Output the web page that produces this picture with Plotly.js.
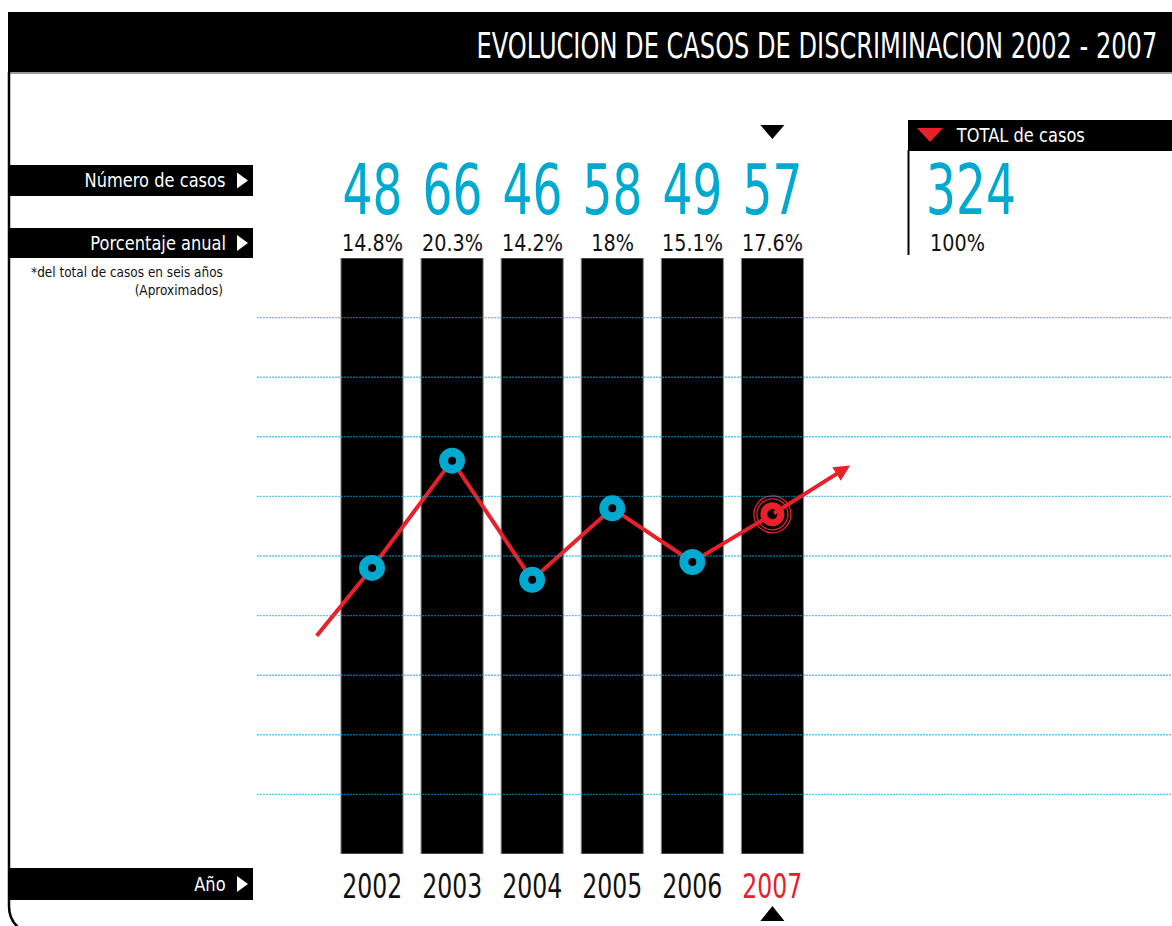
<!DOCTYPE html>
<html>
<head>
<meta charset="utf-8">
<script src="https://cdn.plot.ly/plotly-3.0.1.min.js"></script>
<style>
html,body{margin:0;padding:0;background:#fff;}
#chart{width:1172px;height:926px;}
</style>
</head>
<body>
<div id="chart"></div>
<script>
// ---------------- DATA ----------------
const years = ["2002", "2003", "2004", "2005", "2006", "2007"];
const cases = [48, 66, 46, 58, 49, 57];
const percentLabels = ["14.8%", "20.3%", "14.2%", "18%", "15.1%", "17.6%"];
const barHeights = [100, 100, 100, 100, 100, 100];
const gridValues = [10, 20, 30, 40, 50, 60, 70, 80, 90];
const leadIn = {x: -0.69, y: 36.6};   // start of the red trend line (left of 2002)
const leadOut = {x: 5.97, y: 65.2};   // tip of the red trend arrow (right of 2007)
const totalCases = "324";
const totalPercent = "100%";
const titleText = "EVOLUCION DE CASOS DE DISCRIMINACION 2002 - 2007";
const rowLabels = ["Número de casos", "Porcentaje anual", "Año"];
const noteLines = ["*del total de casos en seis años", "(Aproximados)"];
const totalLabel = "TOTAL de casos";

// ---------------- LAYOUT HELPERS ----------------
const W = 1172, H = 926, ML = 257, MR = 0, MT = 258, MB = 72;
const px = X => (X - ML) / (W - ML - MR);
const py = Y => (H - MB - Y) / (H - MB - MT);
const FONT = "'DejaVu Sans', 'Noto Sans', sans-serif";
const BLUE = "#00a9cf";
const RED = "#e8202a";
const idx = years.map((_, i) => i);
const lastI = years.length - 1;

// ---------------- TRACES ----------------
const traces = [
  {
    type: "bar", x: idx, y: barHeights, width: 0.775,
    marker: {color: "#000", line: {color: "#8a8a8a", width: 1}},
    hoverinfo: "skip", showlegend: false
  },
  {
    type: "scatter", mode: "lines",
    x: [leadIn.x].concat(idx), y: [leadIn.y].concat(cases),
    line: {color: RED, width: 4}, hoverinfo: "skip", showlegend: false
  },
  {
    type: "scatter", mode: "markers",
    x: idx.slice(0, lastI), y: cases.slice(0, lastI),
    marker: {size: 17, color: "#000", line: {color: BLUE, width: 9}},
    showlegend: false
  },
  {
    type: "scatter", mode: "markers", x: [lastI], y: [cases[lastI]],
    marker: {size: 37, symbol: "circle-open", color: RED, line: {color: RED, width: 1.3}},
    showlegend: false, hoverinfo: "skip"
  },
  {
    type: "scatter", mode: "markers", x: [lastI], y: [cases[lastI]],
    marker: {size: 31, symbol: "circle-open", color: RED, line: {color: RED, width: 1.3}},
    showlegend: false, hoverinfo: "skip"
  },
  {
    type: "scatter", mode: "markers", x: [lastI], y: [cases[lastI]],
    marker: {size: 24, color: RED, line: {width: 0}},
    showlegend: false
  },
  {
    type: "scatter", mode: "markers", x: [lastI], y: [cases[lastI]],
    marker: {size: 10, color: "#000", line: {width: 0}},
    showlegend: false, hoverinfo: "skip"
  }
];

// ---------------- SHAPES ----------------
const shapes = [];
// title bar
shapes.push({type: "rect", xref: "paper", yref: "paper", x0: px(8), x1: px(1172), y0: py(72), y1: py(12),
  fillcolor: "#000", line: {width: 0}, layer: "above"});
shapes.push({type: "line", xref: "paper", yref: "paper", x0: px(10), x1: px(1172), y0: py(73), y1: py(73),
  line: {color: "#9a9a9a", width: 2}, layer: "above"});
// left frame with rounded bottom corner
shapes.push({type: "path", xref: "paper", yref: "paper",
  path: `M ${px(9)},${py(72)} L ${px(9)},${py(906)} Q ${px(9)},${py(922)} ${px(22)},${py(930)}`,
  line: {color: "#000", width: 2.5}, layer: "above"});
// gridlines above bars
gridValues.forEach(v => shapes.push({type: "line", xref: "paper", yref: "y", x0: 0, x1: 1, y0: v, y1: v,
  line: {color: "rgba(0,165,235,0.62)", width: 1.4, dash: "2px,1px"}, layer: "above"}));
// row label bars
const rowCenters = [180.5, 243, 884];
const rowBox = [[165, 196], [228, 258], [868, 900]];
rowBox.forEach((b, k) => {
  shapes.push({type: "rect", xref: "paper", yref: "paper", x0: px(10), x1: px(253), y0: py(b[1]), y1: py(b[0]),
    fillcolor: "#000", line: {width: 0}, layer: "above"});
  const yc = rowCenters[k];
  shapes.push({type: "path", xref: "paper", yref: "paper",
    path: `M ${px(237)},${py(yc - 8)} L ${px(248)},${py(yc)} L ${px(237)},${py(yc + 8)} Z`,
    fillcolor: "#fff", line: {width: 0}, layer: "above"});
});
// total box
shapes.push({type: "rect", xref: "paper", yref: "paper", x0: px(908), x1: px(1172), y0: py(151), y1: py(120),
  fillcolor: "#000", line: {width: 0}, layer: "above"});
shapes.push({type: "line", xref: "paper", yref: "paper", x0: px(908.5), x1: px(908.5), y0: py(255), y1: py(150),
  line: {color: "#000", width: 2}, layer: "above"});
shapes.push({type: "path", xref: "paper", yref: "paper",
  path: `M ${px(917)},${py(128)} L ${px(943)},${py(128)} L ${px(930)},${py(142)} Z`,
  fillcolor: RED, line: {width: 0}, layer: "above"});
// pointer triangles for the current year
shapes.push({type: "path", xref: "x", yref: "paper",
  path: `M ${lastI - 0.15},${py(125)} L ${lastI + 0.15},${py(125)} L ${lastI},${py(139)} Z`,
  fillcolor: "#000", line: {width: 0}, layer: "above"});
shapes.push({type: "path", xref: "x", yref: "paper",
  path: `M ${lastI - 0.15},${py(921)} L ${lastI + 0.15},${py(921)} L ${lastI},${py(906)} Z`,
  fillcolor: "#000", line: {width: 0}, layer: "above"});

// ---------------- ANNOTATIONS ----------------
// each text may be squeezed horizontally (condensed look): fit = {group, target width in px}
const ann = [];
const fits = [];
function addText(a, fit) { ann.push(a); fits.push(fit || null); }

addText({xref: "paper", yref: "paper", x: px(1159), y: py(46), xanchor: "right", yanchor: "middle",
  text: titleText, showarrow: false, font: {family: FONT, size: 36, color: "#fff"}}, {g: "title", w: 681});
// trend arrow tip
addText({xref: "x", yref: "y", axref: "x", ayref: "y", x: leadOut.x, y: leadOut.y, ax: lastI, ay: cases[lastI],
  text: "", showarrow: true, arrowhead: 2, arrowsize: 0.8, arrowwidth: 4, arrowcolor: RED, standoff: 0});
// number / percent / year labels
idx.forEach(i => {
  addText({xref: "x", yref: "paper", x: i, y: py(190), yanchor: "middle", xanchor: "center",
    text: String(cases[i]), showarrow: false, font: {family: FONT, size: 70, color: BLUE}},
    {g: "num", w: i === 0 ? 60 : null});
  addText({xref: "x", yref: "paper", x: i, y: py(243), yanchor: "middle", xanchor: "center",
    text: percentLabels[i], showarrow: false, font: {family: FONT, size: 23, color: "#111"}},
    {g: "pct", w: i === 0 ? 61 : null});
  addText({xref: "x", yref: "paper", x: i, y: py(886), yanchor: "middle", xanchor: "center",
    text: years[i], showarrow: false, font: {family: FONT, size: 34, color: i === lastI ? RED : "#111"}},
    {g: "year", w: i === 0 ? 60 : null});
});
// row labels
rowLabels.forEach((t, k) => addText({xref: "paper", yref: "paper", x: px(228), y: py(rowCenters[k]),
  xanchor: "right", yanchor: "middle", text: t, showarrow: false, font: {family: FONT, size: 20, color: "#fff"}},
  {g: "row", w: k === 0 ? 141 : null}));
addText({xref: "paper", yref: "paper", x: px(225), y: py(281), xanchor: "right", yanchor: "middle",
  text: noteLines.join("<br>"), align: "right", showarrow: false,
  font: {family: FONT, size: 14, color: "#111"}}, {g: "note", w: 192});
// total
addText({xref: "paper", yref: "paper", x: px(954), y: py(135.5), xanchor: "left", yanchor: "middle",
  text: totalLabel, showarrow: false, font: {family: FONT, size: 20, color: "#fff"}}, {g: "row"});
addText({xref: "paper", yref: "paper", x: px(924), y: py(190), xanchor: "left", yanchor: "middle",
  text: totalCases, showarrow: false, font: {family: FONT, size: 70, color: BLUE}}, {g: "num"});
addText({xref: "paper", yref: "paper", x: px(928), y: py(243), xanchor: "left", yanchor: "middle",
  text: totalPercent, showarrow: false, font: {family: FONT, size: 23, color: "#111"}}, {g: "pct"});

const layout = {
  width: W, height: H,
  margin: {l: ML, r: MR, t: MT, b: MB, pad: 0},
  paper_bgcolor: "#fff", plot_bgcolor: "rgba(0,0,0,0)",
  showlegend: false,
  xaxis: {range: [-1.436, 9.99], showgrid: false, zeroline: false, showticklabels: false, ticks: "", showline: false, fixedrange: true},
  yaxis: {range: [0, 100], showgrid: false, zeroline: false, showticklabels: false, ticks: "", showline: false, fixedrange: true},
  shapes: shapes,
  annotations: ann,
  bargap: 0,
  font: {family: FONT}
};

function condense(gd) {
  const nodes = ann.map((a, i) => gd.querySelector(`.annotation[data-index="${i}"] text.annotation-text`));
  const scale = {};
  fits.forEach((f, i) => {
    if (f && f.w && nodes[i]) scale[f.g] = f.w / nodes[i].getBBox().width;
  });
  fits.forEach((f, i) => {
    const t = nodes[i];
    if (!f || !t || !scale[f.g]) return;
    const b = t.getBBox();
    const xa = ann[i].xanchor || "center";
    const cx = xa === "left" ? b.x : xa === "right" ? b.x + b.width : b.x + b.width / 2;
    t.setAttribute("transform", `translate(${cx},0) scale(${scale[f.g]},1) translate(${-cx},0)`);
  });
}

Plotly.newPlot("chart", traces, layout, {displayModeBar: false, staticPlot: true}).then(condense);
</script>
</body>
</html>
